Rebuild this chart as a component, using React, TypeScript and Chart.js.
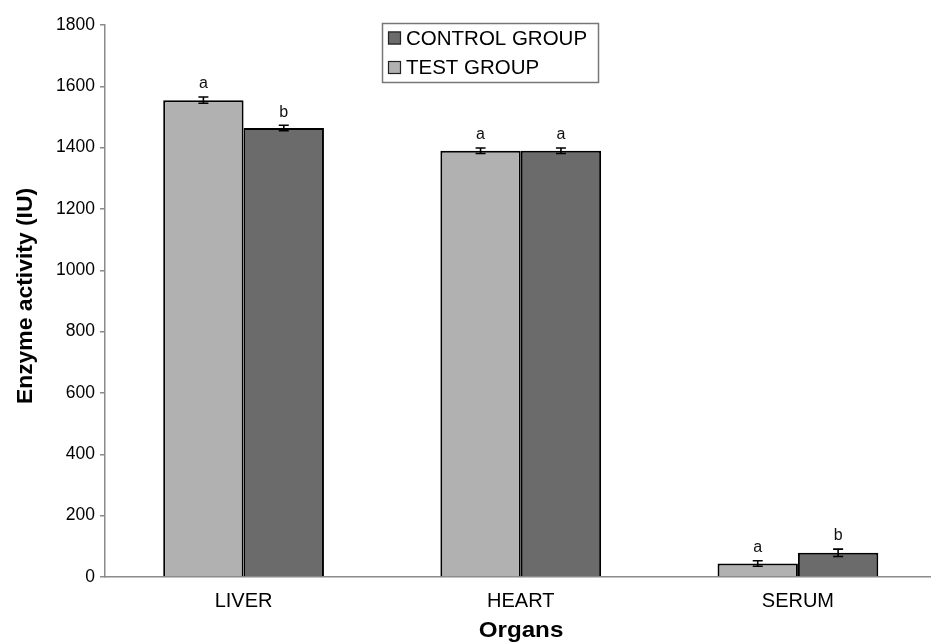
import React, { useEffect, useRef } from "react";
import { Chart, registerables } from "chart.js";

Chart.register(...registerables);

const categories = ["LIVER", "HEART", "SERUM"];
const testValues = [1555, 1390, 44];
const controlValues = [1464, 1390, 79];
const testErrors = [10, 9, 9];
const controlErrors = [9, 9, 12];
const testLetters = ["a", "a", "a"];
const controlLetters = ["b", "a", "b"];
const yTicks = [0, 200, 400, 600, 800, 1000, 1200, 1400, 1600, 1800];

const LIGHT = "#b1b1b1";
const DARK = "#6b6b6b";
const FONT = "'Liberation Sans', Arial, sans-serif";

const errorBarsPlugin = {
  id: "errorBars",
  afterDatasetsDraw(chart: any) {
    const ctx = chart.ctx;
    const y = chart.scales.y;
    const errs = [testErrors, controlErrors];
    const letters = [testLetters, controlLetters];
    const vals = [testValues, controlValues];
    ctx.save();
    for (let d = 0; d < 2; d++) {
      const meta = chart.getDatasetMeta(d);
      meta.data.forEach((bar: any, i: number) => {
        const v = vals[d][i];
        const e = errs[d][i];
        const x = bar.x;
        const yTop = y.getPixelForValue(v + e);
        const yBot = y.getPixelForValue(v - e);
        ctx.strokeStyle = "#000";
        ctx.lineWidth = 1.6;
        ctx.beginPath();
        ctx.moveTo(x, yTop);
        ctx.lineTo(x, yBot);
        ctx.moveTo(x - 5, yTop);
        ctx.lineTo(x + 5, yTop);
        ctx.moveTo(x - 5, yBot);
        ctx.lineTo(x + 5, yBot);
        ctx.stroke();
        ctx.fillStyle = "#111";
        ctx.font = `16px ${FONT}`;
        ctx.textAlign = "center";
        ctx.textBaseline = "middle";
        ctx.fillText(letters[d][i], x, yTop - 13);
      });
    }
    ctx.restore();
  },
};

const decorPlugin = {
  id: "decor",
  afterDraw(chart: any) {
    const ctx = chart.ctx;
    ctx.save();
    // Legend box
    ctx.fillStyle = "#fff";
    ctx.fillRect(382, 23, 217, 60);
    ctx.strokeStyle = "#777";
    ctx.lineWidth = 1.5;
    ctx.strokeRect(382.5, 23.5, 216, 59);
    const items = [
      { label: chart.data.datasets[1].label, color: DARK, cy: 38 },
      { label: chart.data.datasets[0].label, color: LIGHT, cy: 67.5 },
    ];
    items.forEach((it) => {
      ctx.fillStyle = it.color;
      ctx.fillRect(388, it.cy - 6.5, 13, 13);
      ctx.strokeStyle = "#222";
      ctx.lineWidth = 1.2;
      ctx.strokeRect(388.5, it.cy - 6, 12, 12);
      ctx.fillStyle = "#000";
      ctx.font = `20.5px ${FONT}`;
      ctx.textAlign = "left";
      ctx.textBaseline = "middle";
      ctx.fillText(it.label, 406, it.cy + 1);
    });
    // Axis titles
    ctx.fillStyle = "#000";
    ctx.font = `bold 22px ${FONT}`;
    ctx.textAlign = "center";
    ctx.textBaseline = "alphabetic";
    ctx.save();
    ctx.translate(521, 636.5);
    ctx.scale(1.1, 1);
    ctx.fillText("Organs", 0, 0);
    ctx.restore();
    ctx.save();
    ctx.translate(32, 296);
    ctx.rotate(-Math.PI / 2);
    ctx.scale(1.04, 1);
    ctx.fillText("Enzyme activity (IU)", 0, 0);
    ctx.restore();
    ctx.restore();
  },
};

export default function App() {
  const ref = useRef<HTMLCanvasElement>(null);
  useEffect(() => {
    document.body.style.margin = "0";
    document.body.style.overflow = "hidden";
    const chart = new Chart(ref.current as HTMLCanvasElement, {
      type: "bar",
      data: {
        labels: categories,
        datasets: [
          {
            label: "TEST GROUP",
            data: testValues,
            backgroundColor: LIGHT,
            borderColor: "#000",
            borderWidth: 2,
            barPercentage: 1,
            categoryPercentage: 0.58,
          },
          {
            label: "CONTROL GROUP",
            data: controlValues,
            backgroundColor: DARK,
            borderColor: "#000",
            borderWidth: 2,
            barPercentage: 1,
            categoryPercentage: 0.58,
          },
        ],
      },
      options: {
        animation: false,
        responsive: false,
        maintainAspectRatio: false,
        layout: { padding: { top: 25, right: 3.5, left: 0, bottom: 0 } },
        plugins: {
          legend: { display: false },
          tooltip: { enabled: false },
        },
        scales: {
          x: {
            type: "category",
            offset: true,
            grid: { display: false, drawTicks: false },
            border: { display: true, color: "#8a8a8a", width: 1.5 },
            ticks: {
              color: "#000",
              font: { family: FONT, size: 20 },
              padding: 12,
            },
            afterFit(scale: any) {
              scale.height = 66;
            },
          },
          y: {
            min: 0,
            max: 1800,
            afterBuildTicks(scale: any) {
              scale.ticks = yTicks.map((v) => ({ value: v }));
            },
            grid: {
              display: true,
              drawOnChartArea: false,
              drawTicks: true,
              tickLength: 5,
              color: "#8a8a8a",
              lineWidth: 1.5,
            },
            border: { display: true, color: "#8a8a8a", width: 1.5 },
            ticks: {
              color: "#000",
              font: { family: FONT, size: 17.5 },
              padding: 5,
              callback: (v: any) => String(v),
            },
            afterFit(scale: any) {
              scale.width = 105;
            },
          },
        },
      },
      plugins: [errorBarsPlugin, decorPlugin],
    } as any);
    return () => chart.destroy();
  }, []);
  return (
    <div style={{ position: "fixed", left: 0, top: 0, width: 931, height: 643, overflow: "hidden", background: "#fff" }}>
      <canvas ref={ref} width={940} height={643} style={{ display: "block", width: 940, height: 643 }} />
    </div>
  );
}
